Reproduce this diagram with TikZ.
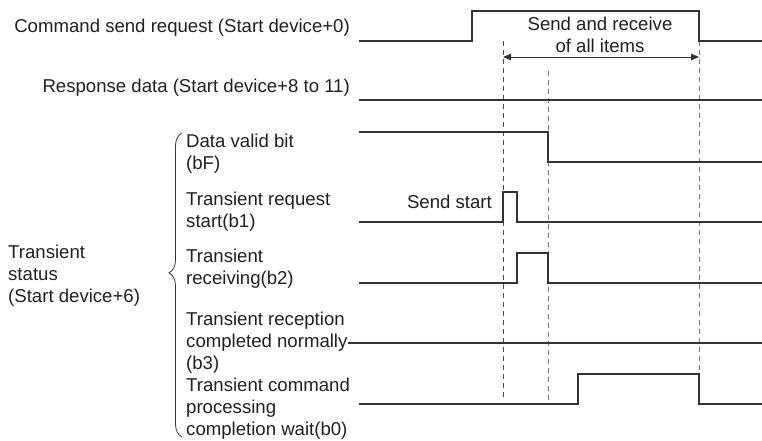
\documentclass[tikz,border=0pt]{standalone}
\usepackage{fontspec}
\setmainfont{Liberation Sans}
\usetikzlibrary{arrows.meta,positioning,decorations.pathreplacing}
\definecolor{wireink}{HTML}{333333}
\definecolor{guidegray}{HTML}{7A7A7A}
\definecolor{textink}{HTML}{231F20}

\begin{document}
\begin{tikzpicture}[
    x=1pt, y=-1pt,
    sig/.style={wireink, line width=1.3pt},
    guide/.style={guidegray, line width=0.9pt, dash pattern=on 5pt off 4pt},
    lbl/.style={inner sep=0pt, align=left, text=textink,
                font=\fontsize{18.6}{22}\selectfont},
    span/.style={{Triangle[length=8pt,width=6.5pt]}-{Triangle[length=8pt,width=6.5pt]},
                 wireink, line width=0.9pt}
]
\useasboundingbox (0,0) rectangle (762,441);

% signal names (base = last line)
\node[lbl, anchor=base east] (cmd) at (350,33) {Command send request (Start device+0)};
\node[lbl, anchor=base east] (resp) at (350,93) {Response data (Start device+8 to 11)};
\node[lbl, anchor=base west] (status) at (8,302) {Transient\\status\\(Start device+6)};
\node[lbl, anchor=base west] (bF) at (186,169) {Data valid bit\\(bF)};
\node[lbl, anchor=base west] (b1) at (186,227) {Transient request\\start(b1)};
\node[lbl, anchor=base west] (b2) at (186,284) {Transient\\receiving(b2)};
\node[lbl, anchor=base west] (b3) at (186,369) {Transient reception\\completed normally\\(b3)};
\node[lbl, anchor=base west] (b0) at (186,435) {Transient command\\processing\\completion wait(b0)};

% brace
\coordinate (braceB) at (182,437);
\coordinate (braceT) at (182,133);
\draw[wireink, line width=0.8pt, decorate,
      decoration={brace, amplitude=13pt, aspect=0.54}] (braceB) -- (braceT);

% guides
\draw[guide, black!70] (503,41) -- (503,398);
\draw[guide] (548,71) -- (548,404);
\draw[guide] (699,41) -- (699,374);

% waveforms
\draw[sig] (359,41) -- (472,41) -- (472,11) -- (699,11) -- (699,41) -- (762,41);
\draw[sig] (359,100) -- (762,100);
\draw[sig] (359,132) -- (548,132) -- (548,162) -- (762,162);
\draw[sig] (359,222) -- (503,222) -- (503,192) -- (517,192) -- (517,222) -- (762,222);
\draw[sig] (359,283) -- (517,283) -- (517,253) -- (548,253) -- (548,283) -- (762,283);
\draw[sig] (348,343) -- (762,343);
\draw[sig] (359,404) -- (578,404) -- (578,374) -- (699,374) -- (699,404) -- (762,404);

% span of send and receive
\coordinate (spanL) at (503,57);
\coordinate (spanR) at (699,57);
\draw[span] (spanL) -- (spanR);
\node[lbl, align=center, anchor=base] (spantxt) at (600,53) {Send and receive\\of all items};
\node[lbl, anchor=base east] (sendst) at (492,208) {Send start};
\end{tikzpicture}
\end{document}
